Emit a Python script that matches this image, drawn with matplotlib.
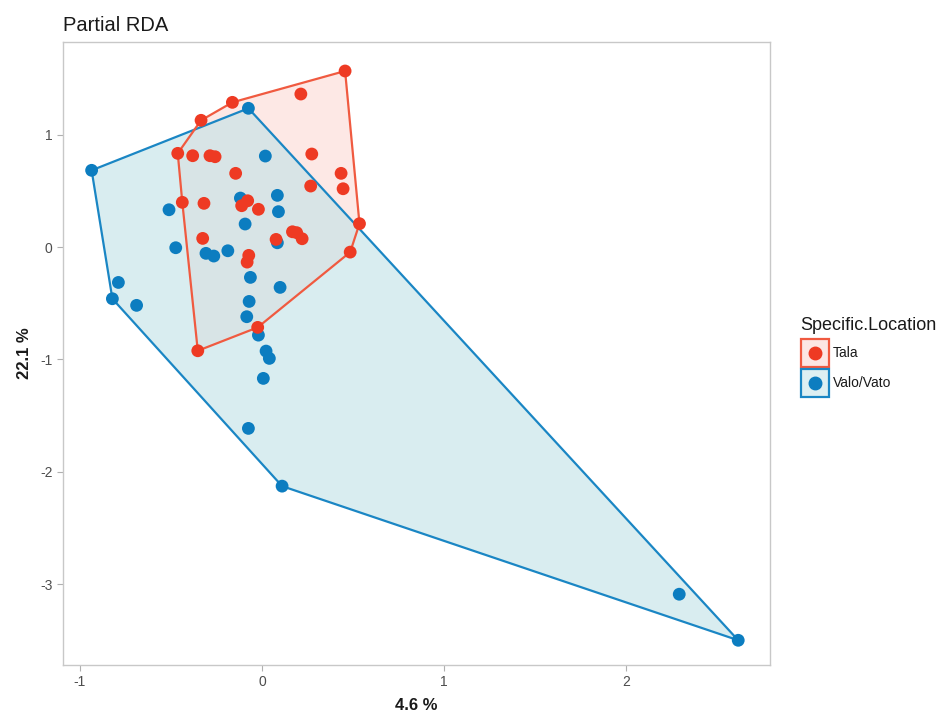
import numpy as np
import matplotlib
matplotlib.use("Agg")
import matplotlib.pyplot as plt
from matplotlib.patches import Rectangle
from matplotlib.lines import Line2D

plt.rcParams["font.family"] = ["Liberation Sans", "DejaVu Sans"]
plt.rcParams["axes.unicode_minus"] = False

# ── Data ──────────────────────────────────────────────────────────────────────
tala_x = [0.456, 0.213, -0.163, -0.335, -0.463, -0.381, -0.286, -0.258, 0.273,
          -0.145, 0.434, 0.445, 0.267, -0.438, -0.319, -0.112, -0.079, -0.020,
          0.535, -0.326, 0.077, 0.167, 0.190, 0.220, -0.073, -0.082, 0.484,
          -0.024, -0.353]
tala_y = [1.567, 1.362, 1.288, 1.128, 0.834, 0.813, 0.813, 0.804, 0.828,
          0.656, 0.656, 0.519, 0.543, 0.398, 0.389, 0.368, 0.412, 0.336,
          0.208, 0.077, 0.068, 0.136, 0.128, 0.074, -0.074, -0.134, -0.045,
          -0.715, -0.923]

valo_x = [-0.075, -0.936, 0.018, 0.084, 0.090, -0.119, -0.511, -0.093, -0.474,
          -0.308, -0.265, -0.188, 0.084, -0.064, 0.099, -0.789, -0.822, -0.689,
          -0.071, -0.084, -0.020, 0.022, 0.040, 0.007, -0.075, 0.110, 2.291,
          2.615]
valo_y = [1.235, 0.683, 0.810, 0.460, 0.315, 0.436, 0.332, 0.205, -0.006,
          -0.056, -0.080, -0.033, 0.038, -0.270, -0.359, -0.315, -0.460, -0.519,
          -0.484, -0.620, -0.784, -0.926, -0.991, -1.169, -1.614, -2.128, -3.090,
          -3.500]

groups = ["Tala", "Valo/Vato"]
point_colors = {"Tala": "#EE3A23", "Valo/Vato": "#0C7DC0"}
line_colors = {"Tala": "#F05A40", "Valo/Vato": "#1A86C4"}
fill_colors = {"Tala": "#F0442E", "Valo/Vato": "#C2E3E7"}
fill_alpha = {"Tala": 0.12, "Valo/Vato": 0.62}
key_fill = {"Tala": "#FCE6E3", "Valo/Vato": "#DDEFF2"}


def convex_hull(xs, ys):
    pts = sorted(set(zip(xs, ys)))

    def cross(o, a, b):
        return (a[0] - o[0]) * (b[1] - o[1]) - (a[1] - o[1]) * (b[0] - o[0])

    lower, upper = [], []
    for p in pts:
        while len(lower) >= 2 and cross(lower[-2], lower[-1], p) <= 0:
            lower.pop()
        lower.append(p)
    for p in reversed(pts):
        while len(upper) >= 2 and cross(upper[-2], upper[-1], p) <= 0:
            upper.pop()
        upper.append(p)
    return np.array(lower[:-1] + upper[:-1])


W, H = 938, 712
fig = plt.figure(figsize=(W / 100, H / 100), dpi=100)
ax = fig.add_axes([0.0672, 0.066, 0.754, 0.875])

data = {"Tala": (tala_x, tala_y), "Valo/Vato": (valo_x, valo_y)}
hulls = {g: convex_hull(*data[g]) for g in groups}

# fills: red underneath, blue over it
for z, g in enumerate(groups, start=1):
    h = hulls[g]
    ax.fill(h[:, 0], h[:, 1], color=fill_colors[g], alpha=fill_alpha[g],
            lw=0, zorder=z)
# outlines on top of both fills
for g in ["Valo/Vato", "Tala"]:
    h = np.vstack([hulls[g], hulls[g][:1]])
    ax.plot(h[:, 0], h[:, 1], color=line_colors[g], lw=1.6, zorder=3)

for g in ["Valo/Vato", "Tala"]:
    ax.scatter(*data[g], s=85, color=point_colors[g], edgecolors="none",
               zorder=5)

ax.set_xlim(-1.093, 2.791)
ax.set_ylim(-3.72, 1.825)
ax.set_xticks([-1, 0, 1, 2])
ax.set_yticks([-3, -2, -1, 0, 1])
ax.tick_params(colors="#B0B0B0", labelcolor="#4D4D4D", labelsize=10,
               length=4, width=0.8)
for s in ax.spines.values():
    s.set_color("#C8C8C8")
    s.set_linewidth(1.0)

ax.set_xlabel("4.6 %", fontsize=12, fontweight="bold", color="#1A1A1A",
              labelpad=6)
ax.set_ylabel("22.1 %", fontsize=12, fontweight="bold", color="#1A1A1A",
              labelpad=6)
ax.set_title("Partial RDA", loc="left", fontsize=14.5, color="#1A1A1A", pad=8)

# ── Legend (drawn by hand, ggplot-style keys) ─────────────────────────────────
def fx(px):
    return px / W


def fy(py):
    return 1 - py / H


fig.text(fx(800), fy(325), "Specific.Location", fontsize=13, color="#1A1A1A",
         ha="left", va="center")
key_w, key_h, top = 28, 28, 339
for i, g in enumerate(groups):
    y0 = top + i * (key_h + 2)
    fig.add_artist(Rectangle((fx(801), fy(y0 + key_h)), fx(key_w), key_h / H,
                             transform=fig.transFigure, facecolor=key_fill[g],
                             edgecolor=line_colors[g], linewidth=1.6))
    cy = y0 + key_h / 2
    fig.add_artist(Line2D([fx(801 + key_w / 2)], [fy(cy)], marker="o",
                          markersize=9, color=point_colors[g], ls="none",
                          transform=fig.transFigure))
    fig.text(fx(833), fy(cy), g, fontsize=10, color="#1A1A1A", ha="left",
             va="center")

fig.savefig("out.png", dpi=100)
